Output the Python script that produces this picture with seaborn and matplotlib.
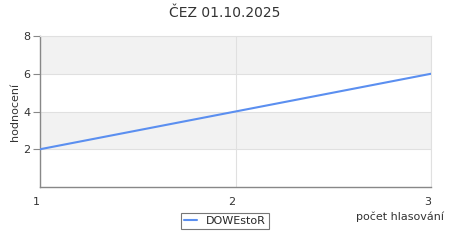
import matplotlib
matplotlib.use("Agg")
import matplotlib.pyplot as plt
import seaborn as sns
import pandas as pd
from matplotlib.lines import Line2D

votes = [1, 2, 3]
ratings = [2, 4, 6]
series_name = "DOWEstoR"
title = "ČEZ 01.10.2025"
xlabel = "počet hlasování"
ylabel = "hodnocení"
yticks = [2, 4, 6, 8]
xticks = [1, 2, 3]

sns.set_theme(style="white")
plt.rcParams['font.family'] = ['DejaVu Sans']

df = pd.DataFrame({"x": votes, "y": ratings, "s": [series_name] * len(votes)})

fig = plt.figure(figsize=(4.5, 2.5), dpi=100)
ax = fig.add_axes([40/450, 1-187/250, (431-40)/450, (187-36)/250])

for lo, hi, c in [(0, 2, "white"), (2, 4, "#f2f2f2"), (4, 6, "white"), (6, 8, "#f2f2f2")]:
    ax.axhspan(lo, hi, color=c, zorder=0, lw=0)

sns.lineplot(data=df, x="x", y="y", hue="s", palette=["#5b8ff0"], ax=ax, lw=1.5, legend=False, zorder=3)

ax.set_xlim(1, 3)
ax.set_ylim(0, 8)
ax.set_xticks(xticks)
ax.set_xticklabels([str(v) for v in xticks])
ax.set_yticks(yticks)
ax.set_yticklabels([str(v) for v in yticks])
ax.grid(True, color="#e0e0e0", lw=0.8, zorder=1)
ax.set_axisbelow(True)
for s in ["top", "right"]:
    ax.spines[s].set_visible(True)
    ax.spines[s].set_color("#e0e0e0")
    ax.spines[s].set_linewidth(0.8)
for s in ["left", "bottom"]:
    ax.spines[s].set_color("#888888")
    ax.spines[s].set_linewidth(1.0)
ax.tick_params(axis="y", left=True, length=5, color="#888888", labelsize=8, labelcolor="#333333", pad=2, width=0.8)
ax.tick_params(axis="x", bottom=False, length=0, labelsize=8, labelcolor="#333333", pad=7)
for lab in ax.get_xticklabels():
    lab.set_horizontalalignment("right")
ax.set_xlabel("")
ax.set_ylabel(ylabel, fontsize=8, color="#333333", labelpad=2)
fig.text(444/450, 1-217/250, xlabel, ha="right", va="center", fontsize=8, color="#333333")
fig.text(0.5, 1-13/250, title, ha="center", va="center", fontsize=10, color="#333333")

h = [Line2D([0], [0], color="#5b8ff0", lw=1.5)]
leg = fig.legend(h, [series_name], loc="center", bbox_to_anchor=(225/450, 1-221/250), fontsize=8,
                 frameon=True, fancybox=False, edgecolor="#555555", handlelength=1.2, borderpad=0.3,
                 handletextpad=0.8)
leg.get_frame().set_linewidth(0.8)

fig.savefig("out.png", dpi=100)
